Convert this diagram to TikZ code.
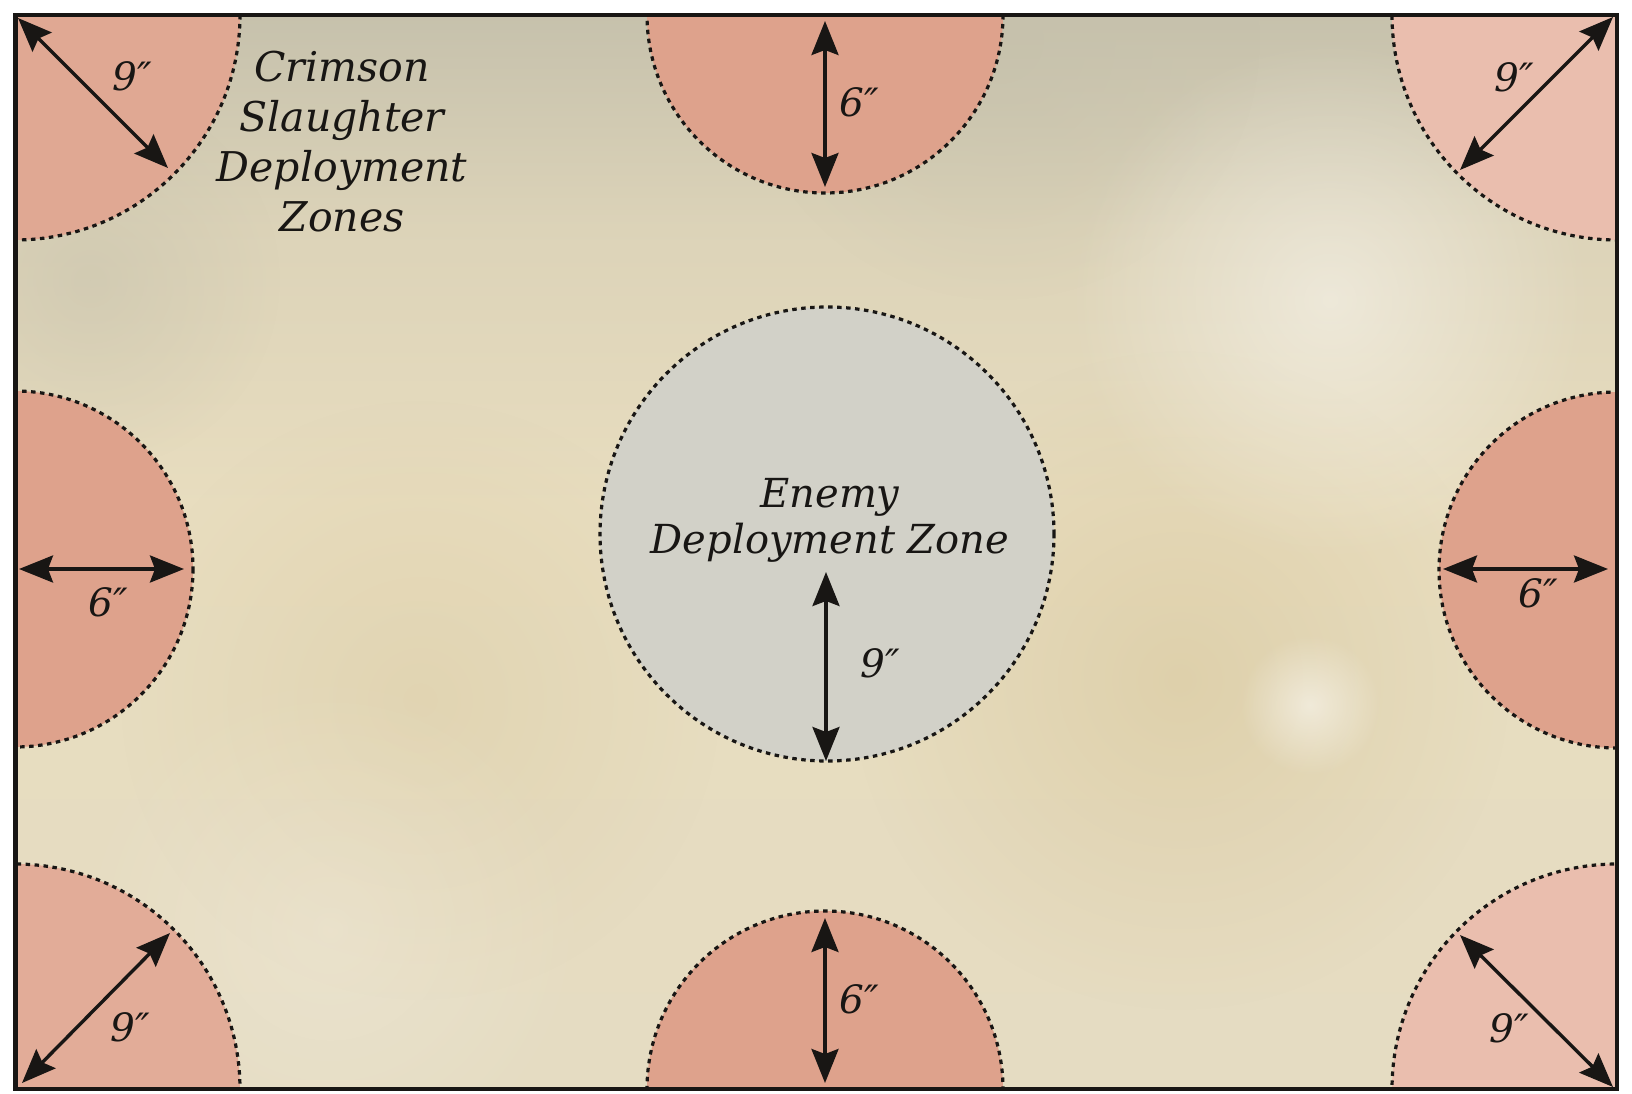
\documentclass[tikz,border=0pt]{standalone}
\usepackage{fontspec}
\setmainfont{DejaVu Serif}
\usetikzlibrary{arrows.meta,fadings}

\definecolor{parchment}{RGB}{232,221,191}
\definecolor{parchtop}{RGB}{198,193,172}
\definecolor{parchlow}{RGB}{229,220,194}
\definecolor{stain}{RGB}{212,193,146}
\definecolor{zonered}{RGB}{222,162,140}
\definecolor{zonepale}{RGB}{234,190,174}
\definecolor{enemygrey}{RGB}{210,209,200}
\definecolor{inkblack}{RGB}{24,22,20}

\tikzfading[name=blot, inner color=transparent!0, outer color=transparent!100]
% the middle 50bp of the shading cover the board
\pgfdeclareverticalshading{parchshade}{100bp}{color(0bp)=(parchlow); color(25bp)=(parchlow);
    color(52bp)=(parchment); color(65bp)=(parchment!65!parchtop); color(75bp)=(parchtop);
    color(100bp)=(parchtop)}

\begin{document}
\begin{tikzpicture}[x=1pt,y=-1pt,
    zoneedge/.style={draw=inkblack,line width=3.2pt,dash pattern=on 4.5pt off 4.5pt},
    dimarrow/.style={<->,>={Stealth[length=34pt,width=27pt,inset=5pt]},line width=3.4pt,draw=inkblack},
    dimlabel/.style={font=\fontsize{39}{46}\selectfont\itshape,text=inkblack,inner sep=0pt},
    zonetitle/.style={font=\fontsize{41}{50}\selectfont\itshape,text=inkblack,align=center,inner sep=0pt}]
    \useasboundingbox (0,0) rectangle (1632,1094);
    \fill[white] (0,0) rectangle (1632,1094);

    % table surface
    \begin{scope}
        \clip (15.5,15) rectangle (1617,1089);
        \shade[shading=parchshade] (15.5,15) rectangle (1617,1089);
        \fill[parchtop,opacity=.6,path fading=blot] (1000,40) circle[radius=260];
        \fill[parchtop,opacity=.5,path fading=blot] (90,280) circle[radius=190];
        \fill[stain,opacity=.45,path fading=blot] (1180,680) circle[radius=330];
        \fill[stain,opacity=.3,path fading=blot] (420,700) circle[radius=300];
        \fill[white,opacity=.45,path fading=blot] (1330,300) circle[radius=260];
        \fill[white,opacity=.5,path fading=blot] (1310,705) circle[radius=70];
        \fill[white,opacity=.2,path fading=blot] (330,930) circle[radius=260];

        % deployment zones
        \foreach \cx/\cy/\r/\col in {15/15/225/zonered!80!zonepale,1617/15/225/zonepale,
            15/1089/225/zonered!65!zonepale,1617/1089/225/zonepale,825/15/178/zonered,
            825/1089/178/zonered,15/569/178/zonered,1617/570/178/zonered}
            \fill[\col] (\cx,\cy) circle[radius=\r];
        \foreach \cx/\cy/\r in {15/15/225,1617/15/225,15/1089/225,1617/1089/225,
            825/15/178,825/1089/178,15/569/178,1617/570/178}
            \draw[zoneedge] (\cx,\cy) circle[radius=\r];
    \end{scope}

    % enemy zone
    \node[circle,fill=enemygrey,zoneedge,minimum size=454pt,inner sep=0pt] (enemy) at (827,534) {};

    % frame
    \draw[inkblack,line width=4.5pt] (15.5,15) rectangle (1617,1089);

    % measurements
    \foreach \n/\ax/\ay/\bx/\by in {tl/18/18/168/168,tp/825/21/825/187,tr/1613/17/1460/170,
        lf/19/569/184/569,rt/1608/569/1443/569,md/826/572/826/761,
        bl/22/1083/170/933,bt/825/1083/825/918,br/1613/1087/1460/935}
    {
        \coordinate (\n-a) at (\ax,\ay);
        \coordinate (\n-b) at (\bx,\by);
        \draw[dimarrow] (\n-a) -- (\n-b);
    }

    \node[dimlabel] (tl-lab) at (132,76) {9″};
    \node[dimlabel] (tp-lab) at (859,102) {6″};
    \node[dimlabel] (tr-lab) at (1514,77) {9″};
    \node[dimlabel] (lf-lab) at (108,602) {6″};
    \node[dimlabel] (rt-lab) at (1538,593) {6″};
    \node[dimlabel] (md-lab) at (880,663) {9″};
    \node[dimlabel] (bt-lab) at (859,999) {6″};
    \node[dimlabel] (bl-lab) at (130,1027) {9″};
    \node[dimlabel] (br-lab) at (1509,1028) {9″};

    % zone names
    \node[zonetitle] (crimson) at (342,142) {Crimson\\Slaughter\\Deployment\\Zones};
    \node[zonetitle,font=\fontsize{40}{46}\selectfont\itshape] (enemy-lab) at (830,520)
        {Enemy\\Deployment Zone};
\end{tikzpicture}
\end{document}
